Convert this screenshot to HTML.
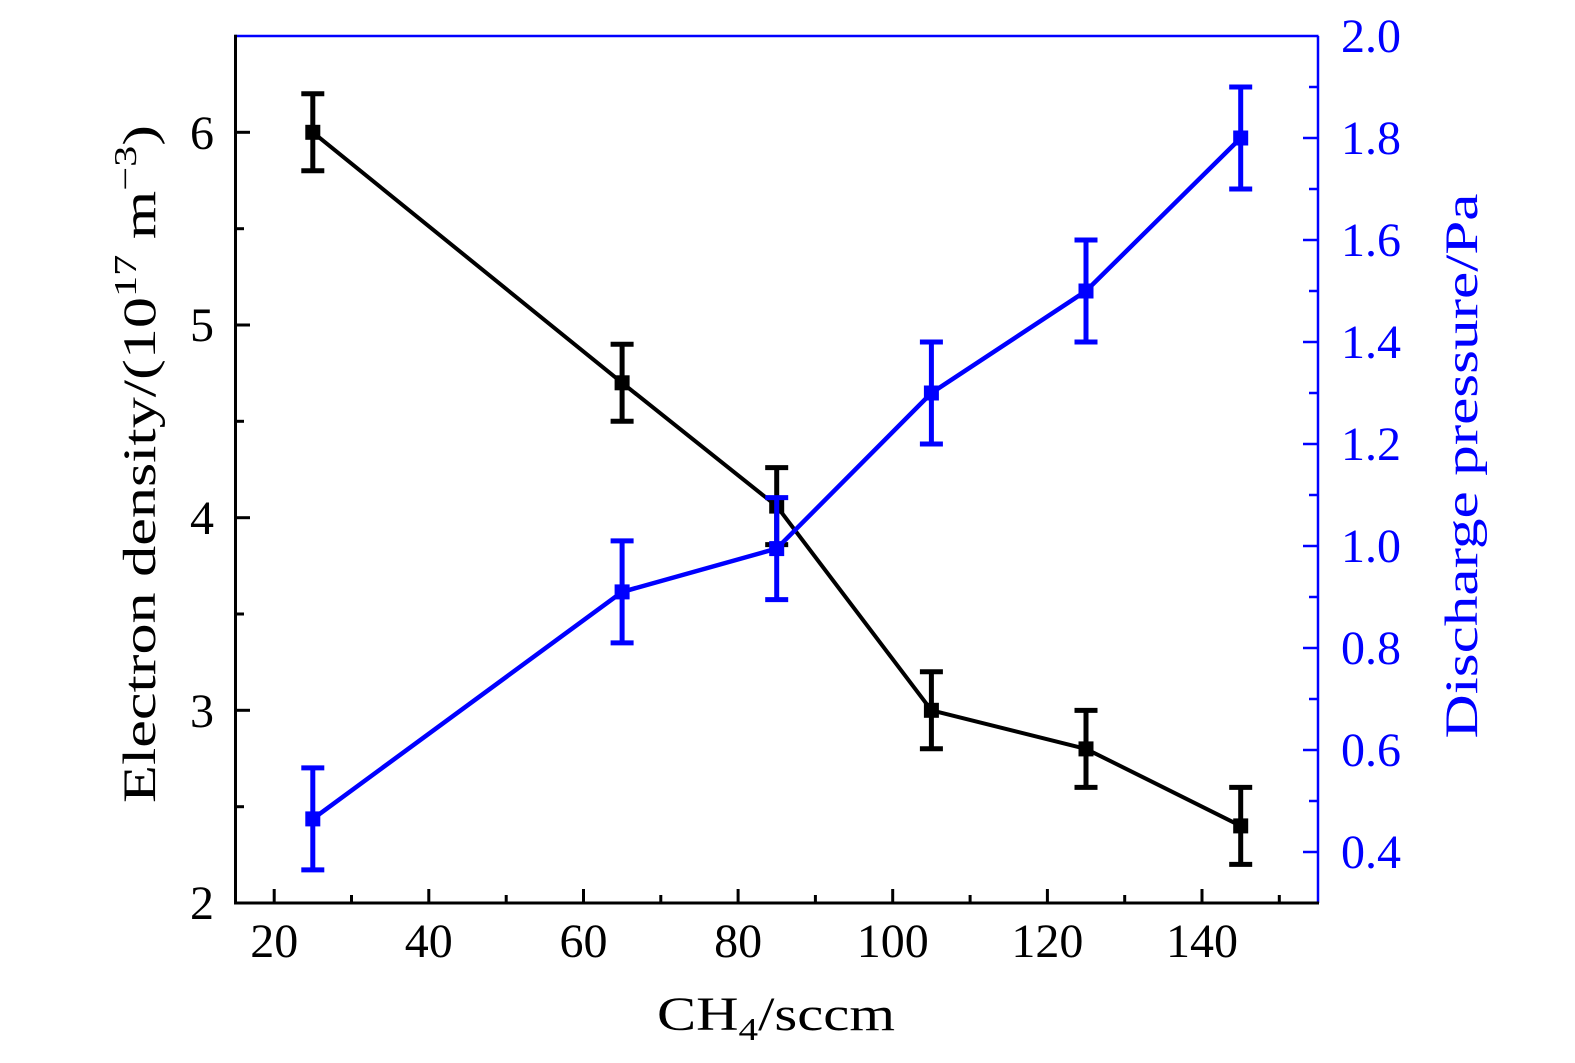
<!DOCTYPE html>
<html>
<head>
<meta charset="utf-8">
<style>
html,body{margin:0;padding:0;background:#fff;}
svg{display:block;}
text{font-family:"Liberation Serif","DejaVu Serif",serif;}
</style>
</head>
<body>
<svg width="1575" height="1063" viewBox="0 0 1575 1063" xmlns="http://www.w3.org/2000/svg">
<rect width="1575" height="1063" fill="#fff"/>

<!-- Black series -->
<g stroke="#000" fill="none" stroke-linejoin="round">
  <polyline points="312.8,132.3 622.1,382.8 776.7,506.1 931.4,710.3 1086.0,748.9 1240.7,825.9" stroke-width="4"/>
  <g stroke-width="5">
    <line x1="312.8" y1="93.8" x2="312.8" y2="170.8"/><line x1="301.3" y1="93.8" x2="324.3" y2="93.8"/><line x1="301.3" y1="170.8" x2="324.3" y2="170.8"/>
    <line x1="622.1" y1="344.3" x2="622.1" y2="421.3"/><line x1="610.6" y1="344.3" x2="633.6" y2="344.3"/><line x1="610.6" y1="421.3" x2="633.6" y2="421.3"/>
    <line x1="776.7" y1="467.6" x2="776.7" y2="544.6"/><line x1="765.2" y1="467.6" x2="788.2" y2="467.6"/><line x1="765.2" y1="544.6" x2="788.2" y2="544.6"/>
    <line x1="931.4" y1="671.8" x2="931.4" y2="748.8"/><line x1="919.9" y1="671.8" x2="942.9" y2="671.8"/><line x1="919.9" y1="748.8" x2="942.9" y2="748.8"/>
    <line x1="1086.0" y1="710.4" x2="1086.0" y2="787.4"/><line x1="1074.5" y1="710.4" x2="1097.5" y2="710.4"/><line x1="1074.5" y1="787.4" x2="1097.5" y2="787.4"/>
    <line x1="1240.7" y1="787.4" x2="1240.7" y2="864.4"/><line x1="1229.2" y1="787.4" x2="1252.2" y2="787.4"/><line x1="1229.2" y1="864.4" x2="1252.2" y2="864.4"/>
  </g>
</g>
<g fill="#000">
  <rect x="305.3" y="124.8" width="15" height="15"/>
  <rect x="614.6" y="375.3" width="15" height="15"/>
  <rect x="769.2" y="498.6" width="15" height="15"/>
  <rect x="923.9" y="702.8" width="15" height="15"/>
  <rect x="1078.5" y="741.4" width="15" height="15"/>
  <rect x="1233.2" y="818.4" width="15" height="15"/>
</g>

<!-- Blue series -->
<g stroke="#0000ff" fill="none" stroke-linejoin="round">
  <polyline points="312.8,818.9 622.1,591.9 776.7,548.6 931.4,393 1086.0,291 1240.7,138" stroke-width="4.5"/>
  <g stroke-width="5">
    <line x1="312.8" y1="767.9" x2="312.8" y2="869.9"/><line x1="301.3" y1="767.9" x2="324.3" y2="767.9"/><line x1="301.3" y1="869.9" x2="324.3" y2="869.9"/>
    <line x1="622.1" y1="540.9" x2="622.1" y2="642.9"/><line x1="610.6" y1="540.9" x2="633.6" y2="540.9"/><line x1="610.6" y1="642.9" x2="633.6" y2="642.9"/>
    <line x1="776.7" y1="497.6" x2="776.7" y2="599.6"/><line x1="765.2" y1="497.6" x2="788.2" y2="497.6"/><line x1="765.2" y1="599.6" x2="788.2" y2="599.6"/>
    <line x1="931.4" y1="342" x2="931.4" y2="444"/><line x1="919.9" y1="342" x2="942.9" y2="342"/><line x1="919.9" y1="444" x2="942.9" y2="444"/>
    <line x1="1086.0" y1="240" x2="1086.0" y2="342"/><line x1="1074.5" y1="240" x2="1097.5" y2="240"/><line x1="1074.5" y1="342" x2="1097.5" y2="342"/>
    <line x1="1240.7" y1="87" x2="1240.7" y2="189"/><line x1="1229.2" y1="87" x2="1252.2" y2="87"/><line x1="1229.2" y1="189" x2="1252.2" y2="189"/>
  </g>
</g>
<g fill="#0000ff">
  <rect x="305.3" y="811.4" width="15" height="15"/>
  <rect x="614.6" y="584.4" width="15" height="15"/>
  <rect x="769.2" y="541.1" width="15" height="15"/>
  <rect x="923.9" y="385.5" width="15" height="15"/>
  <rect x="1078.5" y="283.5" width="15" height="15"/>
  <rect x="1233.2" y="130.5" width="15" height="15"/>
</g>

<!-- Axes -->
<line x1="234.5" y1="36" x2="1318.5" y2="36" stroke="#0000ff" stroke-width="2.5"/>
<line x1="1318" y1="36" x2="1318" y2="903" stroke="#0000ff" stroke-width="2.5"/>
<line x1="235.5" y1="34.8" x2="235.5" y2="904.5" stroke="#000" stroke-width="3"/>
<line x1="234" y1="903" x2="1319" y2="903" stroke="#000" stroke-width="3"/>

<!-- Bottom ticks -->
<g stroke="#000" stroke-width="3">
  <line x1="274.2" y1="903" x2="274.2" y2="889"/>
  <line x1="351.5" y1="903" x2="351.5" y2="895"/>
  <line x1="428.8" y1="903" x2="428.8" y2="889"/>
  <line x1="506.2" y1="903" x2="506.2" y2="895"/>
  <line x1="583.5" y1="903" x2="583.5" y2="889"/>
  <line x1="660.8" y1="903" x2="660.8" y2="895"/>
  <line x1="738.1" y1="903" x2="738.1" y2="889"/>
  <line x1="815.4" y1="903" x2="815.4" y2="895"/>
  <line x1="892.7" y1="903" x2="892.7" y2="889"/>
  <line x1="970.1" y1="903" x2="970.1" y2="895"/>
  <line x1="1047.4" y1="903" x2="1047.4" y2="889"/>
  <line x1="1124.7" y1="903" x2="1124.7" y2="895"/>
  <line x1="1202.0" y1="903" x2="1202.0" y2="889"/>
  <line x1="1279.3" y1="903" x2="1279.3" y2="895"/>
</g>

<!-- Left ticks -->
<g stroke="#000" stroke-width="3">
  <line x1="235.5" y1="806.7" x2="244" y2="806.7"/>
  <line x1="235.5" y1="710.3" x2="250" y2="710.3"/>
  <line x1="235.5" y1="614.0" x2="244" y2="614.0"/>
  <line x1="235.5" y1="517.7" x2="250" y2="517.7"/>
  <line x1="235.5" y1="421.3" x2="244" y2="421.3"/>
  <line x1="235.5" y1="325.0" x2="250" y2="325.0"/>
  <line x1="235.5" y1="228.7" x2="244" y2="228.7"/>
  <line x1="235.5" y1="132.3" x2="250" y2="132.3"/>
</g>

<!-- Right ticks -->
<g stroke="#0000ff" stroke-width="2.5">
  <line x1="1318" y1="852" x2="1303" y2="852"/>
  <line x1="1318" y1="801" x2="1309" y2="801"/>
  <line x1="1318" y1="750" x2="1303" y2="750"/>
  <line x1="1318" y1="699" x2="1309" y2="699"/>
  <line x1="1318" y1="648" x2="1303" y2="648"/>
  <line x1="1318" y1="597" x2="1309" y2="597"/>
  <line x1="1318" y1="546" x2="1303" y2="546"/>
  <line x1="1318" y1="495" x2="1309" y2="495"/>
  <line x1="1318" y1="444" x2="1303" y2="444"/>
  <line x1="1318" y1="393" x2="1309" y2="393"/>
  <line x1="1318" y1="342" x2="1303" y2="342"/>
  <line x1="1318" y1="291" x2="1309" y2="291"/>
  <line x1="1318" y1="240" x2="1303" y2="240"/>
  <line x1="1318" y1="189" x2="1309" y2="189"/>
  <line x1="1318" y1="138" x2="1303" y2="138"/>
  <line x1="1318" y1="87" x2="1309" y2="87"/>
</g>

<!-- Bottom tick labels -->
<g font-size="48" fill="#000" text-anchor="middle">
  <text x="274.2" y="957">20</text>
  <text x="428.8" y="957">40</text>
  <text x="583.5" y="957">60</text>
  <text x="738.1" y="957">80</text>
  <text x="892.7" y="957">100</text>
  <text x="1047.4" y="957">120</text>
  <text x="1202.0" y="957">140</text>
</g>

<!-- Left tick labels -->
<g font-size="48" fill="#000" text-anchor="end">
  <text x="214" y="919">2</text>
  <text x="214" y="727">3</text>
  <text x="214" y="534">4</text>
  <text x="214" y="341">5</text>
  <text x="214" y="149">6</text>
</g>

<!-- Right tick labels -->
<g font-size="48" fill="#0000ff" text-anchor="start">
  <text x="1341" y="868">0.4</text>
  <text x="1341" y="766">0.6</text>
  <text x="1341" y="664">0.8</text>
  <text x="1341" y="562">1.0</text>
  <text x="1341" y="460">1.2</text>
  <text x="1341" y="358">1.4</text>
  <text x="1341" y="256">1.6</text>
  <text x="1341" y="154">1.8</text>
  <text x="1341" y="52">2.0</text>
</g>

<!-- Axis titles -->
<text x="657" y="1030" font-size="48" fill="#000" textLength="238" lengthAdjust="spacingAndGlyphs">CH<tspan font-size="32" dy="10">4</tspan><tspan dy="-10">/sccm</tspan></text>

<text transform="translate(155,464) rotate(-90)" font-size="47" fill="#000" text-anchor="middle" textLength="678" lengthAdjust="spacingAndGlyphs">Electron density/(10<tspan font-size="32" dy="-19">17</tspan><tspan dy="19"> m</tspan><tspan font-size="32" dy="-19">−3</tspan><tspan dy="19">)</tspan></text>

<text transform="translate(1477,466) rotate(-90)" font-size="47" fill="#0000ff" text-anchor="middle" textLength="545" lengthAdjust="spacingAndGlyphs">Discharge pressure/Pa</text>
</svg>
</body>
</html>
